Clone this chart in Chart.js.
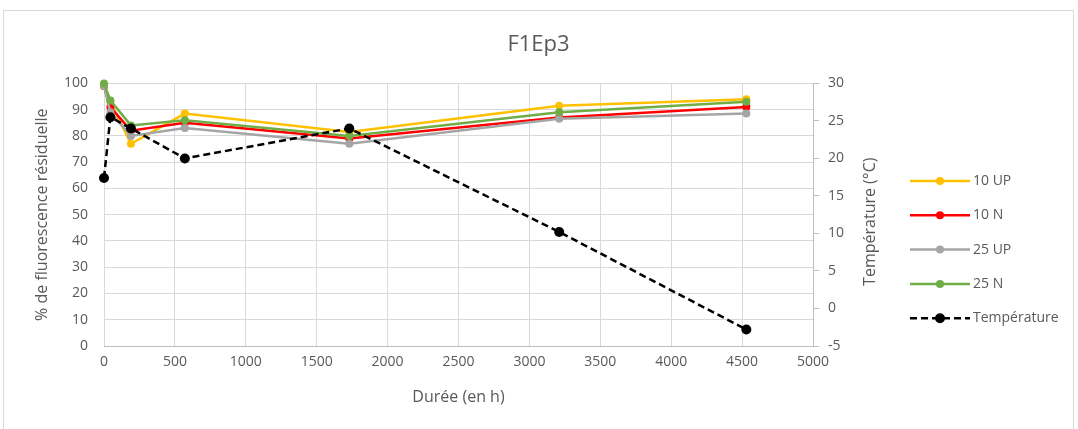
<!DOCTYPE html>
<html>
<head>
<meta charset="utf-8">
<script src="https://cdn.jsdelivr.net/npm/chart.js@4"></script>
<style>
    html, body { margin: 0; padding: 0; background: #fff; }
    #frame {
        position: absolute; left: 3px; top: 10px;
        width: 1069px; height: 425px;
        border: 1px solid #d9d9d9; background: #fff;
    }
    #chart { display: block; }
</style>
</head>
<body>
<div id="frame"><canvas id="chart" width="1069" height="419"></canvas></div>
<script>
// Durée (en h)
const hours = [0, 45, 190, 570, 1730, 3210, 4530];

// % de fluorescence résiduelle
const up10 = [99, 93, 77, 88.5, 81.5, 91.5, 94];
const n10 = [99, 91, 82, 85, 79, 87, 91];
const up25 = [99, 89, 80, 83, 77, 86.5, 88.5];
const n25 = [100, 93.5, 84, 86, 80, 89, 93];

// Température (°C)
const temperature = [17.4, 25.5, 24, 20, 24, 10.2, -2.8];

const xTicks = { min: 0, max: 5000, step: 500 };
const yTicks = { min: 0, max: 100, step: 10 };
const y1Ticks = { min: -5, max: 30, step: 5 };

const textColor = '#595959';
Chart.defaults.font.family = "'Open Sans', sans-serif";
Chart.defaults.color = textColor;

const points = values => values.map((v, i) => ({ x: hours[i], y: v }));

function series(label, values, color, order) {
    return {
        label,
        data: points(values),
        borderColor: color,
        backgroundColor: color,
        borderWidth: 2.5,
        pointRadius: 4,
        pointHoverRadius: 4,
        pointBorderWidth: 0,
        clip: false,
        yAxisID: 'y',
        order
    };
}

const datasets = [
    series('10 UP', up10, '#ffc000', 5),
    series('10 N', n10, '#ff0000', 4),
    series('25 UP', up25, '#a5a5a5', 3),
    series('25 N', n25, '#70ad47', 2),
    {
        label: 'Température',
        data: points(temperature),
        borderColor: '#000',
        backgroundColor: '#000',
        borderWidth: 2.5,
        borderDash: [7, 4],
        pointRadius: 5,
        pointHoverRadius: 5,
        pointBorderWidth: 0,
        clip: false,
        yAxisID: 'y1',
        order: 1
    }
];

// legend drawn at the right, Excel style (line with marker in the middle)
const sideLegend = {
    id: 'sideLegend',
    afterDraw(chart) {
        const ctx = chart.ctx;
        ctx.save();
        chart.data.datasets.forEach((ds, i) => {
            const y = 170 + i * 34.3;
            ctx.strokeStyle = ds.borderColor;
            ctx.lineWidth = ds.borderWidth;
            ctx.setLineDash(ds.borderDash || []);
            ctx.beginPath();
            ctx.moveTo(906, y);
            ctx.lineTo(966, y);
            ctx.stroke();
            ctx.setLineDash([]);
            ctx.fillStyle = ds.backgroundColor;
            ctx.beginPath();
            ctx.arc(936, y, ds.pointRadius, 0, Math.PI * 2);
            ctx.fill();
            ctx.fillStyle = textColor;
            ctx.font = "14px 'Open Sans', sans-serif";
            ctx.textBaseline = 'middle';
            ctx.fillText(ds.label, 969, y);
        });
        // right axis title, reading bottom to top
        const s = chart.scales.y1;
        ctx.translate(s.left + 57, (s.top + s.bottom) / 2 + 7);
        ctx.rotate(-Math.PI / 2);
        ctx.textAlign = 'center';
        ctx.textBaseline = 'middle';
        ctx.font = "16px 'Open Sans', sans-serif";
        ctx.fillText('Température (°C)', 0, 0);
        ctx.restore();
    }
};

new Chart(document.getElementById('chart'), {
    type: 'line',
    data: { datasets },
    plugins: [sideLegend],
    options: {
        responsive: false,
        animation: false,
        layout: { padding: { left: 0, right: 0, top: 0, bottom: 21 } },
        plugins: {
            legend: { display: false },
            tooltip: { enabled: false },
            title: {
                display: true,
                text: 'F1Ep3',
                color: textColor,
                font: { size: 22, weight: 'normal' },
                padding: { top: 21, bottom: 25 }
            }
        },
        scales: {
            x: {
                type: 'linear',
                min: xTicks.min,
                max: xTicks.max,
                afterFit: s => { s.height = 63; },
                ticks: { stepSize: xTicks.step, padding: 8, font: { size: 14 }, maxRotation: 0, callback: v => String(v) },
                grid: { color: '#d9d9d9', drawTicks: false },
                border: { color: '#bfbfbf' },
                title: { display: true, text: 'Durée (en h)', font: { size: 16 }, padding: { top: 0, bottom: 2 } }
            },
            y: {
                position: 'left',
                min: yTicks.min,
                max: yTicks.max,
                afterFit: s => { s.width = 100; },
                ticks: { stepSize: yTicks.step, padding: 16, font: { size: 14 } },
                grid: { color: '#d9d9d9', drawTicks: false },
                border: { display: false },
                title: { display: true, text: '% de fluorescence résiduelle', font: { size: 16 }, padding: { top: 29, bottom: 0 } }
            },
            y1: {
                position: 'right',
                min: y1Ticks.min,
                max: y1Ticks.max,
                afterFit: s => { s.width = 260; },
                ticks: { stepSize: y1Ticks.step, padding: 9, font: { size: 14 } },
                grid: { drawOnChartArea: false, color: '#bfbfbf', tickLength: 6 },
                border: { color: '#bfbfbf' }
            }
        }
    }
});
</script>
</body>
</html>
